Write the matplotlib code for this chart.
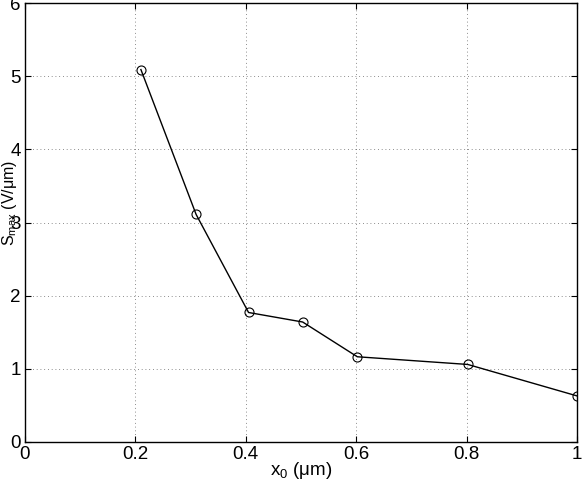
import matplotlib
matplotlib.use("Agg")
from matplotlib import pyplot as plt

# data
x0 = [0.21, 0.31, 0.405, 0.503, 0.602, 0.802, 1.0]
s_max = [5.09, 3.11, 1.77, 1.64, 1.165, 1.06, 0.63]

xticks = [0, 0.2, 0.4, 0.6, 0.8, 1]
xticklabels = ['0', '0.2', '0.4', '0.6', '0.8', '1']
yticks = [0, 1, 2, 3, 4, 5, 6]

plt.rcParams['font.family'] = ['Liberation Sans', 'DejaVu Sans']
plt.rcParams['mathtext.fontset'] = 'custom'
plt.rcParams['mathtext.rm'] = 'Liberation Sans'
plt.rcParams['mathtext.it'] = 'Liberation Sans:italic'

fig = plt.figure(figsize=(5.85, 4.84), dpi=100)
ax = fig.add_axes([25 / 585, 1 - 442 / 484, 552 / 585, 439 / 484])

ax.plot(x0, s_max, color='black', linewidth=1.0, marker='o', markersize=6.5,
        markerfacecolor='none', markeredgecolor='black', markeredgewidth=0.8)

ax.set_xlim(0, 1)
ax.set_ylim(0, 6)
ax.set_xticks(xticks)
ax.set_xticklabels(xticklabels)
ax.set_yticks(yticks)
ax.tick_params(direction='in', top=True, right=True, length=4, width=0.8,
               labelsize=13.5, pad=3)
ax.grid(True, linestyle=(0, (1, 3.5)), color='black', linewidth=0.6, alpha=0.6)
for sp in ax.spines.values():
    sp.set_linewidth(1.0)

ax.set_xlabel(r'x$_{\mathrm{0}}$ (μm)', fontsize=13.5)
ax.set_ylabel(r'S$_{\mathrm{max}}$ (V/μm)', fontsize=11.5)
ax.xaxis.set_label_coords(0.5, -0.042)
ax.yaxis.set_label_coords(-0.01, 0.544)

fig.savefig('out.png', dpi=100)
